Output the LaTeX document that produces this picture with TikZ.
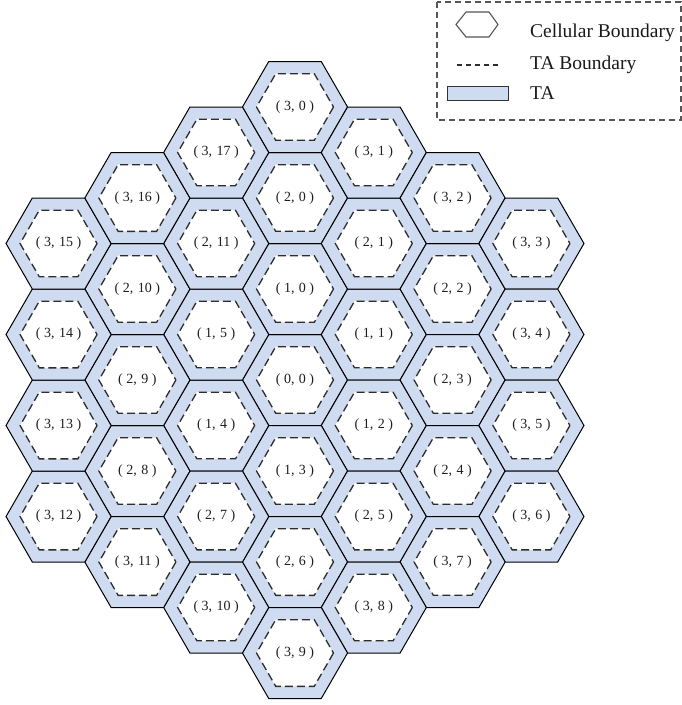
\documentclass[tikz,border=0pt]{standalone}
\usepackage{fontspec}
\setmainfont{Liberation Serif}
\definecolor{tafill}{RGB}{206,219,240}
\definecolor{dashgray}{RGB}{45,45,45}
\definecolor{labelgray}{RGB}{30,30,30}
\definecolor{legendgray}{RGB}{85,85,85}
\tikzset{
  cellhex/.style={fill=tafill, draw=black, line width=1.0pt, line join=miter},
  tahex/.style={fill=white, draw=dashgray, dash pattern=on 8pt off 4pt, line width=1.3pt},
  celllabel/.style={font=\fontsize{14}{15}\selectfont, text=labelgray, inner sep=0pt},
  legendtext/.style={font=\fontsize{19.5}{22}\selectfont, text=black!90, anchor=base west, inner sep=0pt},
  legendbox/.style={draw=legendgray, dash pattern=on 6pt off 4pt, line width=1.2pt},
}
\newcommand\hexcell[4]{%
  \draw[cellhex, shift={(#1,#2)}] (0:52.54) -- (60:52.54) -- (120:52.54) -- (180:52.54) -- (240:52.54) -- (300:52.54) -- cycle;
  \draw[tahex, shift={(#1,#2)}] (0:38.5) -- (60:38.5) -- (120:38.5) -- (180:38.5) -- (240:38.5) -- (300:38.5) -- cycle;
  \node[celllabel] (c#3-#4) at (#1,#2) {(\kern3.5pt#3, \kern1pt#4\kern3.5pt)};
}
\begin{document}
\begin{tikzpicture}[x=1pt, y=-1pt]
\useasboundingbox (0,0) rectangle (682,705);
% central cell
\hexcell{295}{380}{0}{0}
% rings
\foreach \k in {1,2,3} {
  \pgfmathtruncatemacro\n{6*\k-1}
  \foreach \i in {0,...,\n} {
    \pgfmathtruncatemacro\s{floor(\i/\k)}
    \pgfmathsetmacro\t{(\i-\s*\k)/\k}
    \pgfmathsetmacro\px{295+91*\k*((1-\t)*cos(90-60*\s)+\t*cos(30-60*\s))}
    \pgfmathsetmacro\py{380-91*\k*((1-\t)*sin(90-60*\s)+\t*sin(30-60*\s))}
    \hexcell{\px}{\py}{\k}{\i}
  }
}
% legend
\draw[legendbox] (437,2) rectangle (681,120);
\draw[draw=legendgray, fill=white, line width=1.1pt] (456,24.5) -- (466,12) -- (489,12) -- (498,24.5) -- (489,37) -- (466,37) -- cycle;
\coordinate (dl1) at (457,65);
\coordinate (dl2) at (498,65);
\draw[draw=dashgray, dash pattern=on 5pt off 4pt, line width=1.1pt] (dl1) -- (dl2);
\draw[fill=tafill, draw=black!80, line width=1.0pt] (447,86) rectangle (508,100);
\node[legendtext] (lg1) at (530,37) {Cellular Boundary};
\node[legendtext] (lg2) at (530,69) {TA Boundary};
\node[legendtext] (lg3) at (530,99) {TA};
\end{tikzpicture}
\end{document}
